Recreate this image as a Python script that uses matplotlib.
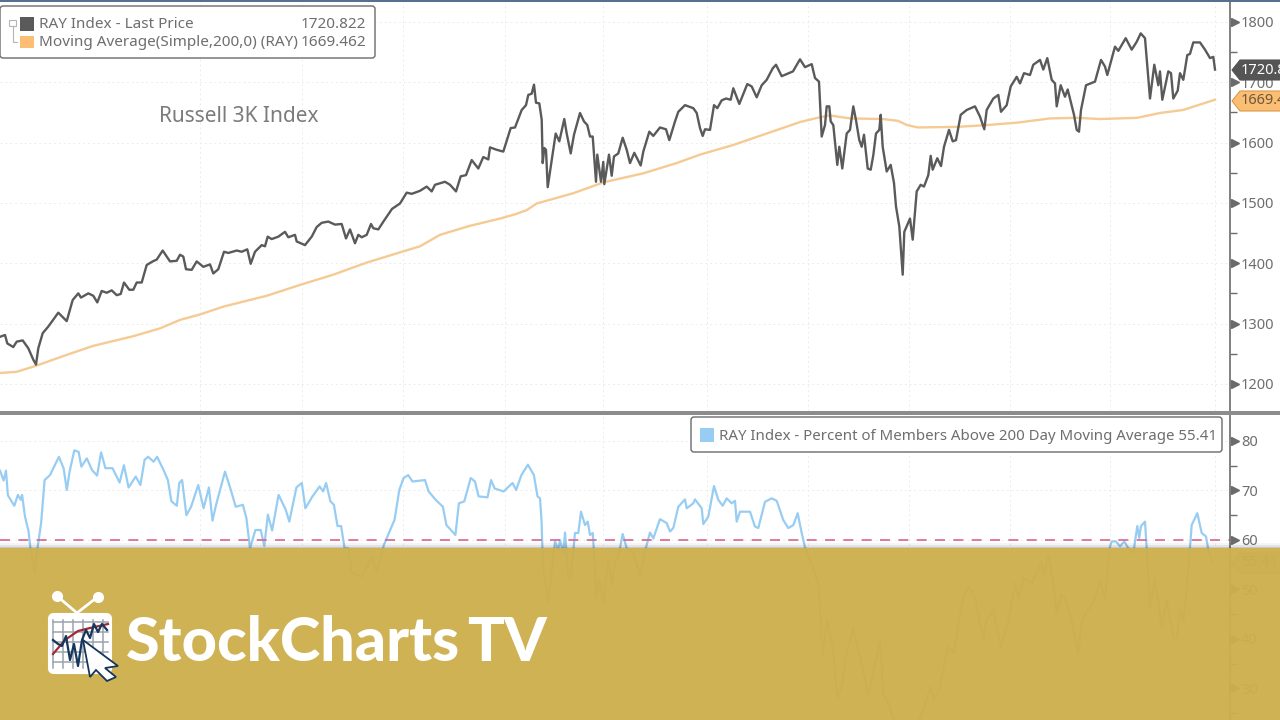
import matplotlib
matplotlib.use("Agg")
import matplotlib.pyplot as plt
from matplotlib.patches import FancyBboxPatch, Polygon, Rectangle

plt.rcParams["font.family"] = ["Noto Sans", "DejaVu Sans"]

# horizontal position of each reading on the shared time axis
price_x = [0, 5, 7.3, 13.3, 16.7, 22.7, 28.3, 33.3, 36, 38.3, 42.7, 48.3, 58.3, 66.7, 72.7, 78.3, 81, 88.3, 93.3, 97.3,
           101.7, 106.7, 111.7, 116.7, 120.7, 124, 129.3, 133.3, 136.7, 141.7, 146.7, 152.7, 156.7, 162.7, 170, 176.7,
           180, 183.3, 186, 191.7, 196.7, 203.3, 210, 213.3, 218.3, 224, 228.3, 236.7, 241.7, 247.3, 250.7, 255, 261.7,
           265, 267.7, 271.7, 278.3, 285, 288.3, 295, 296.7, 305, 311.7, 316.7, 321.7, 328.3, 335, 341.7, 346, 350, 355,
           358.3, 361.7, 366.7, 371, 373.3, 378.3, 383, 392, 400, 406.7, 411.7, 420, 426.7, 431.7, 435, 445, 450, 456,
           460.7, 466, 471.7, 478.3, 483.3, 488.3, 490, 496.7, 503.3, 510.7, 515, 521.7, 526, 528.3, 531.7, 534, 536,
           539.3, 541.7, 542.7, 544.3, 546, 547.7, 551.7, 555.7, 559.3, 564.3, 566.7, 570.7, 574, 580, 584, 587.3, 590,
           592.7, 596, 597.3, 601, 603.3, 604.3, 609, 611.7, 614, 618.3, 622.7, 626.7, 630, 634.3, 640.7, 643.3, 649.3,
           653.3, 660, 666, 669.3, 675, 678.3, 685, 693.3, 696.7, 700, 702.7, 705, 710, 714, 717.3, 721.7, 726, 730.7,
           733.3, 739.3, 747.3, 751.7, 756.7, 761.7, 766.7, 772.7, 776, 781.7, 793, 800, 805, 811.7, 815, 819, 821.7,
           825, 826.7, 829.3, 830.7, 833.3, 837.3, 839.3, 842.3, 846.7, 850, 853.3, 856, 859.3, 861.7, 864, 867.7, 870.7,
           873.3, 876, 879.3, 880.7, 882.7, 886.7, 890.7, 894, 896, 899.3, 902.7, 904.3, 910, 912.7, 916.7, 920.7, 924,
           928.3, 930.7, 932.7, 937.3, 941, 944, 949, 952.7, 956, 960.7, 966.7, 975, 980, 984.3, 986.7, 993.3, 998.3,
           1001, 1006.7, 1010.7, 1016.7, 1020, 1024, 1030, 1033.3, 1040, 1043.3, 1047.3, 1051.7, 1055, 1056.7, 1060.7,
           1065, 1067.7, 1074, 1076.7, 1079, 1081, 1086, 1095, 1101, 1105, 1107.3, 1115, 1118.3, 1125.7, 1131.7, 1136.7,
           1140.7, 1145, 1150, 1154.3, 1158.3, 1160, 1162.3, 1168.3, 1171, 1173.3, 1177.7, 1180, 1183.3, 1187.3, 1190,
           1193.3, 1200, 1205, 1210, 1213.3, 1215]
price_values = [1278, 1281, 1267, 1261, 1270, 1272, 1259, 1240, 1232, 1259, 1284, 1295, 1318, 1304, 1339, 1350, 1343, 1350,
                1346, 1335, 1354, 1351, 1355, 1347, 1349, 1368, 1356, 1356, 1368, 1368, 1397, 1403, 1406, 1421, 1403, 1404,
                1414, 1411, 1390, 1389, 1403, 1394, 1398, 1383, 1390, 1419, 1417, 1421, 1419, 1423, 1399, 1419, 1430, 1428,
                1444, 1440, 1444, 1452, 1443, 1447, 1436, 1430, 1444, 1460, 1467, 1469, 1464, 1465, 1441, 1456, 1433, 1447,
                1443, 1447, 1465, 1458, 1456, 1468, 1490, 1499, 1517, 1515, 1520, 1527, 1519, 1530, 1535, 1530, 1519, 1544,
                1546, 1571, 1557, 1576, 1572, 1592, 1588, 1585, 1624, 1625, 1654, 1662, 1679, 1681, 1696, 1666, 1665, 1638,
                1566, 1591, 1588, 1526, 1571, 1615, 1602, 1639, 1615, 1582, 1613, 1649, 1635, 1629, 1610, 1610, 1535, 1580,
                1535, 1568, 1531, 1580, 1545, 1577, 1582, 1608, 1588, 1566, 1583, 1562, 1585, 1618, 1611, 1625, 1622, 1604,
                1635, 1651, 1662, 1657, 1649, 1624, 1611, 1622, 1621, 1662, 1657, 1670, 1673, 1671, 1690, 1664, 1697, 1693,
                1675, 1695, 1704, 1723, 1729, 1710, 1718, 1738, 1725, 1730, 1707, 1701, 1610, 1629, 1660, 1660, 1635, 1629,
                1563, 1593, 1557, 1615, 1621, 1660, 1637, 1604, 1593, 1613, 1557, 1555, 1579, 1615, 1621, 1646, 1593, 1552,
                1563, 1533, 1494, 1461, 1381, 1452, 1474, 1439, 1519, 1530, 1527, 1546, 1578, 1555, 1574, 1561, 1593, 1621,
                1602, 1604, 1646, 1654, 1660, 1643, 1622, 1654, 1673, 1679, 1651, 1662, 1693, 1709, 1698, 1715, 1712, 1729,
                1737, 1721, 1740, 1704, 1698, 1660, 1695, 1676, 1688, 1646, 1621, 1618, 1654, 1695, 1701, 1737, 1726, 1712,
                1759, 1752, 1773, 1754, 1767, 1781, 1773, 1673, 1729, 1695, 1718, 1671, 1718, 1715, 1673, 1686, 1715, 1704,
                1745, 1747, 1766, 1766, 1754, 1740, 1742, 1721]

ma_x = [0, 16.7, 36, 66.7, 93.3, 133.3, 160, 180, 200, 223.3, 266.7, 300, 333.3, 366.7, 400, 420, 440, 470, 500, 515,
        526.7, 536.7, 573.3, 603.3, 643.3, 676.7, 700, 733.3, 766.7, 800, 820, 830, 850, 883, 898, 907, 918, 957, 987,
        1017, 1050, 1077, 1100, 1137, 1160, 1183, 1215]
ma_values = [1218, 1220, 1230, 1248, 1263, 1279, 1292, 1306, 1315, 1328, 1346, 1364, 1381, 1401, 1418, 1428, 1447, 1462,
             1474, 1481, 1488, 1499, 1516, 1534, 1549, 1566, 1580, 1596, 1615, 1634, 1642, 1645, 1640, 1639, 1636, 1629,
             1625, 1626, 1629, 1633, 1640, 1641, 1639, 1641, 1649, 1654, 1671]

pct_x = [0, 3.6, 6, 7.9, 14.3, 17.9, 20.7, 22.1, 25, 28.6, 30.4, 34.6, 37.5, 41.1, 44.6, 50, 58.9, 63.6, 66.8, 69.6, 74.3,
         78.6, 81.4, 86.8, 92.1, 97.1, 101.1, 105.4, 112.5, 119.6, 123.9, 128.6, 135.7, 140.4, 144.6, 148.2, 153.6, 157.1,
         163.6, 167.9, 171.4, 176.8, 179.3, 182.1, 186.4, 191.1, 198.2, 203.6, 208.9, 212.5, 216.1, 225, 230.4, 235.7,
         242.9, 246.4, 250, 255.4, 260.7, 264.3, 267.9, 272.1, 278.6, 285.7, 289.3, 296.4, 301.8, 305.4, 312.5, 319.6,
         323.2, 326.1, 330.4, 333.9, 337.5, 341.1, 344.6, 348.2, 351.8, 362.5, 371.4, 376.8, 383.9, 391.1, 394.6, 399.3,
         403.6, 408.2, 412.5, 425, 428.6, 435.7, 442.9, 446.4, 455.4, 458.9, 464.3, 470.7, 475, 478.6, 487.5, 491.1, 494.6,
         503.6, 512.5, 516.1, 521.4, 527.9, 533.9, 537.5, 540, 541.5, 543, 548.3, 551.7, 555, 558.3, 560, 563.3, 565, 568.3,
         570.7, 575, 578.3, 581, 585, 587.7, 590, 592.7, 595, 596, 599.3, 603.3, 608.3, 611.7, 615, 618.3, 622.7, 626.7,
         633.3, 640, 645, 650, 653.3, 660, 666.7, 670, 673.3, 678.3, 685, 686.7, 693.3, 695, 701.7, 703.3, 708.3, 714,
         718.3, 722.7, 726.7, 731.7, 735, 736.7, 740, 750, 755, 758.3, 765, 771.7, 776.7, 783.3, 788.3, 793.3, 797.7,
         801.7, 805, 811.7, 818.3, 822.7, 827.3, 833.3, 837.3, 841.7, 846.7, 853.3, 861.7, 868.3, 876.7, 880, 883.3, 888.3,
         893.3, 900, 908, 915, 921.7, 930.7, 933.3, 939.3, 948.3, 954, 958.3, 963.3, 968.3, 975, 983.3, 986.7, 993.3, 1001,
         1008.3, 1015, 1018.3, 1023.3, 1031.7, 1041.7, 1044, 1048.3, 1053.3, 1056.7, 1061.7, 1065, 1071.7, 1078.3, 1081.7,
         1086.7, 1093.3, 1100, 1105, 1110, 1111.7, 1116, 1120, 1124.3, 1128.3, 1133.3, 1137.3, 1139.3, 1141, 1145, 1146.7,
         1150, 1155, 1158.3, 1161.7, 1166.7, 1173.3, 1176.7, 1180, 1183.3, 1186.7, 1191.7, 1197.3, 1201.7, 1206, 1208.3,
         1211.7]
pct_values = [74, 72, 74, 69, 66.9, 69.1, 68.1, 69.1, 64.7, 61.7, 58.3, 53.3, 58.3, 63.4, 72.1, 73.1, 76.8, 74.5, 70.1, 73.8,
              78.1, 77.8, 74.8, 76.5, 74.1, 73, 77.7, 74.5, 74.5, 71.6, 75.1, 70.6, 72.8, 71.1, 76.2, 76.8, 75.8, 76.8, 74.1,
              72.1, 67.8, 66.9, 71.5, 72.1, 65, 66.7, 71.1, 66.4, 70.6, 63.9, 67.1, 73.8, 70.4, 66.7, 67.1, 64.4, 58.3, 62,
              62, 58.8, 65.1, 61.9, 69.1, 66.1, 63.7, 70.6, 71.5, 66.4, 68.8, 70.8, 69.8, 71.5, 67.8, 67.1, 62.8, 62.8, 58.3,
              58.3, 53.3, 52.6, 56.6, 53.6, 59, 62.4, 64.1, 70.1, 72.5, 73.1, 71.8, 72.1, 69.8, 68.1, 66.7, 63, 61, 67.4,
              67.8, 72.5, 71.8, 68.8, 68.6, 72.1, 70.4, 69.8, 71.5, 70.1, 73.1, 75.2, 73.1, 68.8, 68.4, 64, 54.6, 47.6, 54,
              59.7, 58, 60, 57.3, 61.5, 52.6, 52.3, 61.4, 61.4, 65.7, 63, 63.7, 61, 61.4, 54.6, 48.2, 51.9, 47.2, 56, 50.9,
              55.6, 56.6, 61.2, 58.3, 57.3, 52.9, 57.7, 61.5, 60.3, 64.2, 63.4, 61.7, 62.4, 66.7, 68.2, 66.4, 67.4, 68.2,
              66.4, 63.2, 64.7, 70.9, 68.1, 66.9, 68.4, 67.4, 67.9, 63.7, 65.7, 65.7, 62.7, 62.4, 67.7, 68.4, 67.9, 64, 62.4,
              63, 65.4, 61.4, 58.5, 55, 51.3, 36.8, 43.9, 37.5, 28, 30.4, 37.1, 42.2, 34.8, 28.7, 36.4, 39.5, 29, 27, 24, 21,
              20, 22, 24.7, 30.4, 27.7, 29.7, 38.5, 37.1, 42.8, 48.6, 50.6, 48.2, 39.8, 43.8, 45.9, 38.1, 43.8, 51.3, 48.2,
              52.3, 51.3, 55.6, 52.6, 57, 51.3, 45.2, 48.9, 48.2, 43.8, 36.8, 43.5, 45.5, 47.2, 51.6, 48.2, 58.7, 59.7, 59.7,
              58.7, 59.7, 58.3, 57.3, 62.8, 60.4, 62.8, 63.7, 58.3, 46.2, 52.3, 47.2, 42.2, 47.9, 40.2, 40.2, 45.9, 43.5,
              49.9, 63, 65.4, 61.4, 60.7, 58, 55.6]

grid_x = [200, 302, 403, 505, 603, 707, 808, 909, 1010, 1110, 1215]
price_ticks = [1200, 1300, 1400, 1500, 1600, 1700, 1800]
price_minor = [1250, 1350, 1450, 1550, 1650, 1750]
pct_ticks = [30, 40, 50, 60, 70, 80]
pct_minor = [25, 35, 45, 55, 65, 75]
threshold = 60

last_price = "1720.822"
last_ma = "1669.462"
last_pct = "55.41"

GREY_TEXT = "#6e6e6e"
LINE_GREY = "#5a5a5a"
LINE_ORANGE = "#f5ca93"
LINE_BLUE = "#98cdf3"
BAND = "#cfb250"


def style_axis(ax, ticks, minor):
    ax.set_xlim(0, 1230)
    ax.set_xticks(grid_x)
    ax.tick_params(axis="x", length=0, labelbottom=False)
    ax.yaxis.tick_right()
    ax.set_yticks(ticks)
    ax.set_yticks(minor, minor=True)
    ax.tick_params(axis="y", which="major", length=0, pad=8, labelsize=10.5, labelcolor=GREY_TEXT)
    ax.tick_params(axis="y", which="minor", length=5, width=1, color="#6b6b6b", direction="out")
    ax.grid(True, which="major", color="#ececec", linewidth=0.7, linestyle=(0, (2, 3)))
    for name in ("top", "left", "bottom"):
        ax.spines[name].set_visible(False)
    ax.spines["right"].set_color("#6b6b6b")
    ax.spines["right"].set_linewidth(1.2)
    ax.plot([1.004] * len(ticks), ticks, linestyle="none", marker=">", markersize=6, color="#6b6b6b",
            transform=ax.get_yaxis_transform(), clip_on=False)


def draw_tag(ax, x, y, text, face, edge, color):
    ax.add_patch(Polygon([(x, y), (x + 8, y - 10), (1290, y - 10), (1290, y + 10), (x + 8, y + 10)],
                         closed=True, facecolor=face, edgecolor=edge, linewidth=0.8, zorder=3))
    ax.text(x + 9, y, text, fontsize=10.5, color=color, va="center", ha="left", zorder=4, clip_on=True)


def draw_logo(ax):
    for x_end, y_end in ((57, 596), (97.5, 597)):
        ax.plot([77, x_end], [613, y_end], color="white", lw=2, zorder=12, solid_capstyle="round")
        ax.plot([x_end], [y_end], marker="o", markersize=7, color="white", zorder=12)
    ax.add_patch(FancyBboxPatch((49, 614), 62, 59, boxstyle="round,pad=0,rounding_size=5", facecolor="white",
                                edgecolor="white", linewidth=1.5, zorder=12))
    for gx in (53, 63, 73, 83, 93, 103):
        ax.plot([gx, gx], [620, 668], color="#9aa3ad", lw=1.1, zorder=13)
    for gy in (622, 632, 642, 652, 662):
        ax.plot([53, 108], [gy, gy], color="#9aa3ad", lw=1.1, zorder=13)
    ax.plot([53, 65, 78, 90, 108], [654, 640, 631, 628, 624], color="#a32a35", lw=1.6, zorder=14)
    ax.plot([53, 58, 62, 66, 70, 74, 78, 82, 86, 90, 94, 98, 102, 107],
            [640, 644, 646, 636, 660, 644, 666, 640, 630, 638, 624, 632, 624, 630],
            color="#16365c", lw=1.6, zorder=14)
    ax.add_patch(Polygon([(83, 640), (118, 666), (105, 668), (116, 677), (107, 681), (96, 670), (90, 677)],
                         closed=True, facecolor="white", edgecolor="#16365c", linewidth=1.3, zorder=15))


fig = plt.figure(figsize=(12.8, 7.2), dpi=100, facecolor="white")

ax_price = fig.add_axes([0, (720 - 411) / 720, 1230 / 1280, 409 / 720])
ax_price.set_ylim(1155, 1833)
ax_price.plot(ma_x, ma_values, color=LINE_ORANGE, linewidth=1.7)
ax_price.plot(price_x, price_values, color=LINE_GREY, linewidth=1.7)
style_axis(ax_price, price_ticks, price_minor)

ax_pct = fig.add_axes([0, 0, 1230 / 1280, (720 - 414) / 720])
ax_pct.set_ylim(23.6, 85.45)
ax_pct.plot(pct_x, pct_values, color=LINE_BLUE, linewidth=1.6)
ax_pct.axhline(threshold, color="#d9658c", linewidth=1.2, linestyle=(0, (6, 5)))
style_axis(ax_pct, pct_ticks, pct_minor)

# everything drawn in picture pixels: legends, tags, divider, banner, logo
overlay = fig.add_axes([0, 0, 1, 1])
overlay.set_xlim(0, 1280)
overlay.set_ylim(720, 0)
overlay.axis("off")
overlay.patch.set_visible(False)

overlay.add_patch(Rectangle((0, 0), 1280, 2, facecolor="#56708f", edgecolor="none"))
overlay.add_patch(Rectangle((0, 411), 1280, 3.5, facecolor="#8c8c8c", edgecolor="none"))

overlay.text(159, 117, "Russell 3K Index", fontsize=15, color="#7b7b7b", va="center", ha="left")

overlay.add_patch(FancyBboxPatch((0, 6), 375, 52, boxstyle="round,pad=0,rounding_size=3", facecolor="white",
                                 edgecolor="#6a6a6a", linewidth=1))
overlay.add_patch(Rectangle((20, 17), 14, 14, facecolor=LINE_GREY, edgecolor="none"))
overlay.add_patch(Rectangle((20, 36), 14, 12, facecolor="#fbbe72", edgecolor="none"))
overlay.add_patch(Rectangle((9, 20), 7, 6, facecolor="white", edgecolor="#b5b5b5", linewidth=0.8))
overlay.plot([12.5, 12.5, 17], [26, 42, 42], color="#b5b5b5", lw=0.8)
overlay.text(39, 25, "RAY Index - Last Price", fontsize=11, color=GREY_TEXT, va="center")
overlay.text(39, 43, "Moving Average(Simple,200,0) (RAY)", fontsize=11, color=GREY_TEXT, va="center")
overlay.text(366, 25, last_price, fontsize=11, color=GREY_TEXT, va="center", ha="right")
overlay.text(366, 43, last_ma, fontsize=11, color=GREY_TEXT, va="center", ha="right")

overlay.add_patch(FancyBboxPatch((691, 417), 531, 35, boxstyle="round,pad=0,rounding_size=3", facecolor="white",
                                 edgecolor="#6a6a6a", linewidth=1))
overlay.add_patch(Rectangle((700, 428), 14, 14, facecolor=LINE_BLUE, edgecolor="none"))
overlay.text(719, 436, "RAY Index - Percent of Members Above 200 Day Moving Average " + last_pct, fontsize=10.8,
             color=GREY_TEXT, va="center")

draw_tag(overlay, 1232, 70, last_price, "#555555", "#555555", "white")
draw_tag(overlay, 1232, 101, last_ma, "#fbbe72", "#d99a4e", "#6b5a40")
draw_tag(overlay, 1232, 563, last_pct, "#dcdcdc", "#a0a0a0", GREY_TEXT)

# banner sits on top of the lower panel, chart stays faintly visible through it
for offset, shade in ((5, 0.04), (3, 0.07), (1.5, 0.12)):
    overlay.add_patch(Rectangle((0, 548 - offset), 1280, offset, facecolor="black", edgecolor="none", alpha=shade,
                                zorder=9))
overlay.add_patch(Rectangle((0, 548), 1280, 172, facecolor="#cdaf4c", edgecolor="none", alpha=0.96, zorder=10))

draw_logo(overlay)
overlay.text(126, 643, "StockCharts", fontsize=44, fontweight="black", family="Lato", color="white", va="center",
             ha="left", zorder=12)
overlay.text(547, 643, "TV", fontsize=44, fontweight="black", family="Lato", color="white", va="center", ha="right",
             zorder=12)

fig.savefig("out.png", dpi=100)
